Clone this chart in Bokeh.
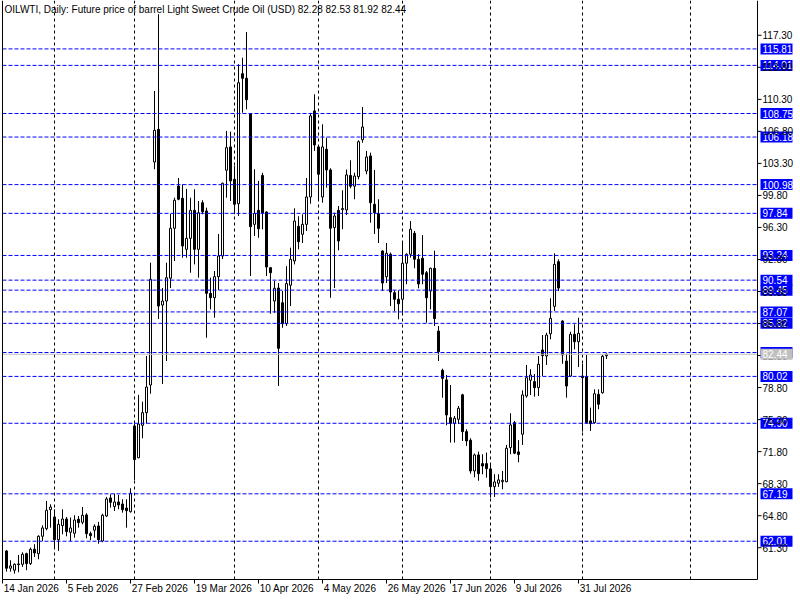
import numpy as np
from bokeh.plotting import figure
from bokeh.models import Range1d, ColumnDataSource
from bokeh.core.properties import value
from bokeh.embed import file_html
from bokeh.resources import INLINE

title_text = "OILWTI, Daily:  Future price of barrel Light Sweet Crude Oil (USD)  82.28 82.53 81.92 82.44"

opens = [60.95, 59.06, 58.84, 59.53, 59.49, 60.65, 59.56, 61.13, 60.65, 62.55,
         63.38, 65.46, 64.66, 62.18, 63.71, 64.44, 62.99, 62.88, 64.41, 64.08,
         64.88, 62.84, 63.21, 63.68, 62.04, 64.77, 66.74, 65.79, 66.30, 66.08,
         65.64, 65.24, 74.61, 71.14, 74.68, 76.06, 79.08, 103.45, 107.02, 87.82,
         88.26, 90.75, 96.21, 100.83, 99.48, 93.91, 95.11, 98.17, 93.91, 99.00,
         98.10, 89.10, 88.62, 90.92, 93.18, 102.55, 105.10, 101.56, 98.89, 113.10,
         112.60, 108.69, 96.64, 98.17, 101.98, 97.99, 91.90, 88.26, 89.68, 88.07,
         85.78, 89.98, 92.63, 96.42, 95.55, 96.64, 99.63, 109.03, 105.10, 99.63,
         104.84, 102.58, 96.28, 98.17, 98.25, 98.21, 101.98, 100.81, 101.85, 105.89,
         102.47, 104.11, 98.83, 97.81, 93.73, 90.92, 93.37, 89.17, 88.45, 88.45,
         92.39, 93.37, 95.66, 92.82, 92.93, 91.35, 89.35, 91.84, 84.98, 80.69,
         79.64, 75.51, 74.89, 75.33, 78.01, 73.99, 73.05, 69.69, 71.44, 70.49,
         70.49, 69.91, 67.97, 68.35, 68.52, 68.52, 72.24, 74.97, 71.77, 73.70,
         77.88, 79.60, 79.45, 78.79, 82.91, 82.25, 84.68, 87.68, 92.56, 86.07,
         81.70, 80.06, 84.62, 83.81, 80.06, 79.95, 75.16, 74.97, 78.06, 78.24,
         82.28]
highs = [61.02, 59.93, 59.60, 60.51, 60.80, 60.76, 61.31, 61.68, 62.66, 63.75,
         66.41, 66.05, 65.50, 64.41, 65.50, 64.66, 64.59, 64.85, 64.77, 65.75,
         65.07, 63.06, 63.86, 64.12, 65.02, 66.85, 67.14, 67.21, 67.07, 66.60,
         66.60, 67.80, 74.86, 78.00, 77.26, 82.25, 92.45, 111.21, 119.60, 89.68,
         92.45, 97.77, 99.55, 101.70, 101.01, 100.51, 99.55, 100.47, 99.19, 99.27,
         98.46, 90.81, 91.54, 95.58, 101.19, 106.84, 106.77, 103.02, 114.13, 114.85,
         117.66, 108.75, 102.66, 101.38, 102.27, 98.05, 91.98, 90.45, 90.23, 89.35,
         92.07, 94.09, 98.39, 97.52, 97.74, 101.70, 108.69, 110.85, 105.20, 107.57,
         106.11, 102.77, 97.91, 98.64, 100.36, 102.62, 103.64, 102.28, 105.83, 109.46,
         104.66, 104.47, 102.58, 99.38, 93.80, 94.60, 93.55, 89.43, 89.43, 94.60,
         93.47, 97.00, 95.91, 93.37, 95.47, 91.54, 91.90, 93.76, 85.53, 80.87,
         80.18, 79.08, 75.70, 76.79, 78.12, 74.25, 73.27, 71.59, 71.80, 71.52,
         71.70, 70.35, 69.33, 69.33, 69.69, 72.53, 76.00, 75.16, 73.06, 78.50,
         81.27, 80.81, 80.28, 82.25, 84.54, 84.79, 88.56, 93.47, 92.82, 86.15,
         82.51, 84.90, 85.71, 86.43, 81.40, 82.36, 76.61, 78.61, 78.61, 82.36,
         82.53]
lows = [58.69, 58.68, 58.47, 58.62, 59.20, 58.84, 59.42, 60.29, 60.04, 62.04,
        63.21, 63.49, 61.31, 60.95, 62.77, 62.55, 62.04, 62.40, 63.49, 63.86,
        62.33, 62.12, 62.40, 61.74, 61.90, 64.66, 65.68, 65.32, 65.50, 65.13,
        63.49, 65.13, 68.71, 71.07, 73.26, 74.86, 78.13, 102.66, 86.29, 79.19,
        81.70, 89.68, 92.63, 99.27, 92.99, 92.99, 91.35, 92.26, 90.81, 97.74,
        84.25, 87.35, 86.43, 89.46, 92.85, 99.55, 99.19, 97.74, 97.55, 108.84,
        109.21, 90.99, 95.36, 95.17, 96.10, 90.99, 86.87, 86.98, 78.97, 85.34,
        85.53, 87.71, 92.26, 93.91, 94.60, 95.91, 98.89, 104.66, 99.19, 99.00,
        100.65, 88.62, 89.68, 93.80, 96.10, 97.66, 100.58, 99.38, 101.56, 105.56,
        102.11, 96.82, 95.58, 94.60, 89.35, 90.23, 87.71, 87.17, 86.26, 86.98,
        90.09, 92.99, 91.84, 89.65, 90.09, 85.89, 87.35, 85.53, 81.70, 77.69,
        74.68, 72.79, 72.79, 74.82, 72.97, 72.42, 69.39, 68.99, 68.62, 69.33,
        68.96, 66.77, 66.85, 67.94, 67.69, 68.45, 71.52, 71.52, 70.64, 72.53,
        77.70, 77.99, 77.81, 77.88, 80.06, 81.27, 84.08, 87.17, 89.35, 81.40,
        77.70, 79.95, 82.98, 81.05, 73.99, 74.86, 74.06, 74.86, 76.43, 78.13,
        81.92]
closes = [59.06, 59.31, 59.49, 59.45, 60.59, 59.56, 61.13, 60.73, 62.55, 63.46,
          65.39, 65.75, 62.18, 63.86, 64.44, 63.06, 63.46, 64.33, 64.04, 64.85,
          62.84, 62.62, 63.65, 62.18, 64.85, 66.63, 66.27, 66.30, 65.97, 65.46,
          65.35, 67.25, 70.93, 74.82, 76.06, 78.86, 90.63, 106.92, 87.71, 88.26,
          90.81, 96.21, 99.27, 99.38, 94.27, 95.11, 98.17, 93.91, 97.91, 98.02,
          89.10, 88.62, 90.92, 93.18, 101.13, 105.02, 101.38, 98.83, 112.12, 112.60,
          110.26, 96.38, 97.84, 96.16, 97.91, 91.98, 91.35, 89.65, 83.09, 85.78,
          90.17, 92.82, 97.00, 94.74, 96.64, 99.63, 108.49, 105.31, 102.11, 105.10,
          102.58, 96.21, 97.55, 94.82, 98.37, 102.04, 100.81, 101.92, 105.67, 107.28,
          104.00, 99.00, 97.91, 96.21, 90.23, 93.47, 89.24, 88.45, 87.96, 92.39,
          93.37, 96.10, 92.82, 90.12, 91.18, 88.62, 91.84, 86.34, 82.72, 79.81,
          75.81, 74.89, 75.44, 76.54, 73.99, 72.97, 69.69, 71.44, 69.39, 70.23,
          69.94, 67.97, 68.49, 68.71, 68.67, 72.17, 74.72, 71.63, 71.48, 78.00,
          79.88, 80.18, 78.79, 81.35, 82.29, 84.54, 86.36, 92.26, 89.68, 82.36,
          78.97, 84.62, 83.81, 84.73, 79.88, 74.97, 74.86, 78.13, 76.98, 82.22,
          82.44]

date_ticks = [-1, 15, 31, 47, 63, 79, 95, 111, 127, 143]
date_labels = ["14 Jan 2026", "5 Feb 2026", "27 Feb 2026", "19 Mar 2026", "10 Apr 2026",
               "4 May 2026", "26 May 2026", "17 Jun 2026", "9 Jul 2026", "31 Jul 2026"]
grid_bars = [12, 32, 57, 78, 99, 121, 144, 171]
price_ticks = [61.3, 64.8, 68.3, 71.8, 75.3, 78.8, 82.3, 85.8, 89.3, 92.8,
               96.3, 99.8, 103.3, 106.8, 110.3, 113.8, 117.3]
levels = [115.81, 114.01, 108.75, 106.18, 100.98, 97.84, 93.24, 90.54, 89.45,
          87.07, 85.82, 80.02, 74.90, 67.19, 62.01]
hidden_level = 82.63
last_price = 82.44

FONT = value("Liberation Sans")
FS = value("10px")
W, H = 800, 600
# canvas <-> data mapping (bar index / price); bar i centred on pixel 6 + 4*i
x_start, x_end = -1.5, 198.5
y_top, y_bot = 121.10, 55.533


def px2x(px):
    return x_start + px * (x_end - x_start) / W


def py2y(py):
    return y_top - py * (y_top - y_bot) / H


p = figure(width=W, height=H, x_range=Range1d(x_start, x_end), y_range=Range1d(y_bot, y_top),
           output_backend="svg", toolbar_location=None, x_axis_type=None, y_axis_type=None,
           min_border=0, outline_line_color=None,
           background_fill_color="white", border_fill_color="white")
p.grid.visible = False

# chart area edges (in data coordinates)
cl, cr = px2x(2), px2x(757)
ct, cb = py2y(0), py2y(579)

# vertical dashed grid
p.segment(x0=grid_bars, y0=[ct] * len(grid_bars), x1=grid_bars, y1=[cb] * len(grid_bars),
          line_color="black", line_dash="3 3", line_width=1)

# candles
o = np.array(opens); h = np.array(highs); l = np.array(lows); c = np.array(closes)
idx = np.arange(len(o))
p.segment(x0=idx, y0=h, x1=idx, y1=l, line_color="black", line_width=1)
up = c >= o
src_up = ColumnDataSource(dict(x=idx[up], top=c[up], bottom=o[up]))
src_dn = ColumnDataSource(dict(x=idx[~up], top=o[~up], bottom=c[~up]))
p.vbar(x="x", top="top", bottom="bottom", width=0.5, source=src_up,
       fill_color="white", line_color="black", line_width=1)
p.vbar(x="x", top="top", bottom="bottom", width=0.5, source=src_dn,
       fill_color="black", line_color="black", line_width=1)

# current price line and horizontal levels
p.segment(x0=[cl], y0=[last_price], x1=[cr], y1=[last_price], line_color="#C0C0C0", line_width=1)
all_levels = levels + [hidden_level]
p.segment(x0=[cl] * len(all_levels), y0=all_levels, x1=[cr] * len(all_levels), y1=all_levels,
          line_color="#0000FF", line_dash="4 2", line_width=1)

# frame lines: left, bottom, right (price axis line)
p.segment(x0=[cl, cl, cr], y0=[ct, cb, ct], x1=[cl, cr, cr], y1=[cb, cb, cb],
          line_color="black", line_width=1)

# price-axis tick marks
tx1 = px2x(761)
p.segment(x0=[cr] * len(price_ticks), y0=price_ticks, x1=[tx1] * len(price_ticks), y1=price_ticks,
          line_color="black", line_width=1)

# blue level boxes with white labels
box_cx = px2x(776)
p.rect(x=[box_cx] * len(all_levels), y=all_levels, width=32, height=11,
       width_units="screen", height_units="screen", fill_color="#0000FF", line_color=None)
lab_x = px2x(762)
p.text(x=[lab_x] * len(levels), y=levels, text=[f"{v:.2f}" for v in levels],
       text_color="white", text_font=FONT, text_font_size=FS,
       text_align="left", text_baseline="middle")

# price-axis labels
p.text(x=[lab_x] * len(price_ticks), y=price_ticks, text=[f"{v:.2f}" for v in price_ticks],
       text_color="black", text_font=FONT, text_font_size=FS,
       text_align="left", text_baseline="middle")

# current price box
p.rect(x=[box_cx], y=[last_price], width=32, height=11, width_units="screen",
       height_units="screen", fill_color="#C0C0C0", line_color=None)
p.text(x=[lab_x], y=[last_price], text=[f"{last_price:.2f}"], text_color="white",
       text_font=FONT, text_font_size=FS, text_align="left", text_baseline="middle")

# date axis ticks and labels
dt = np.array(date_ticks, dtype=float)
p.segment(x0=dt, y0=[cb] * len(dt), x1=dt, y1=[py2y(583)] * len(dt),
          line_color="black", line_width=1)
p.text(x=dt + 0.3, y=[py2y(582.5)] * len(dt), text=date_labels, text_color="black",
       text_font=FONT, text_font_size=FS, text_align="left", text_baseline="top")

# header text
p.text(x=[px2x(4)], y=[py2y(3)], text=[title_text], text_color="black",
       text_font=FONT, text_font_size=FS, text_align="left", text_baseline="top")

open("out.html", "w").write(file_html(p, INLINE))
